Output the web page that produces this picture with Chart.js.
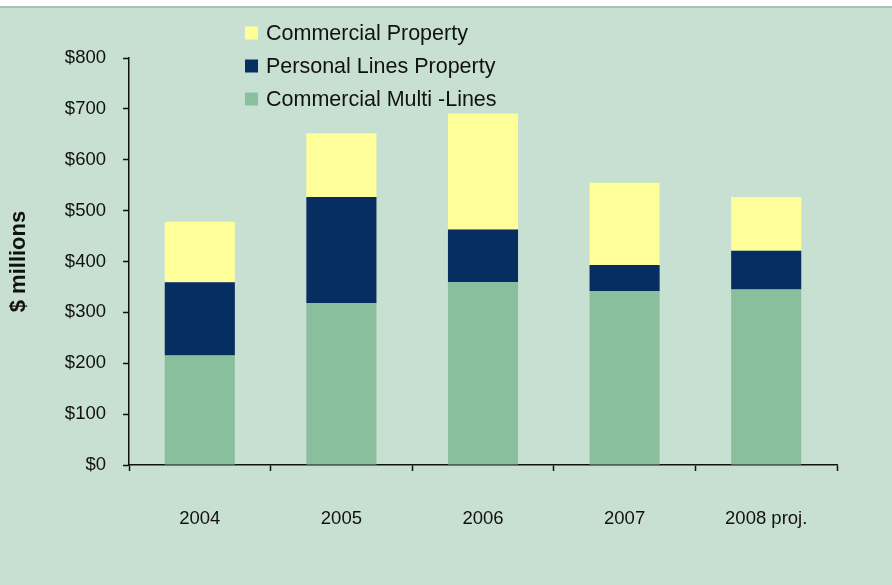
<!DOCTYPE html>
<html>
<head>
<meta charset="utf-8">
<title>Premiums by line</title>
<script src="https://cdn.jsdelivr.net/npm/chart.js@4/dist/chart.umd.min.js"></script>
<style>
  html, body { margin: 0; padding: 0; background: #ffffff; }
  #wrap { width: 892px; height: 585px; }
</style>
</head>
<body>
<div id="wrap"><canvas id="c" width="892" height="585"></canvas></div>
<script>
// Years on the category axis
const categories = ['2004', '2005', '2006', '2007', '2008 proj.'];

// Premiums, $ millions, stacked bottom to top
const commercialMultiLines = [215, 318, 359, 342, 345];
const personalLinesProperty = [144, 209, 104, 51, 76];
const commercialProperty = [119, 125, 228, 162, 106];

// Value axis ticks
const yTickValues = [0, 100, 200, 300, 400, 500, 600, 700, 800];

const FONT = '"Liberation Sans", Arial, sans-serif';

// Page background: thin white strip, rule line, then pale green panel
const panelBackground = {
  id: 'panelBackground',
  beforeDraw(chart) {
    const ctx = chart.ctx;
    ctx.save();
    ctx.fillStyle = '#ffffff';
    ctx.fillRect(0, 0, chart.width, chart.height);
    ctx.fillStyle = '#c8e0d2';
    ctx.fillRect(0, 7, chart.width, chart.height - 7);
    ctx.fillStyle = '#a7c3ae';
    ctx.fillRect(0, 6, chart.width, 2);
    ctx.restore();
  }
};

// Vertical legend, top series first
const stackedLegend = {
  id: 'stackedLegend',
  afterDraw(chart) {
    const ctx = chart.ctx;
    const items = chart.data.datasets.slice().reverse();
    ctx.save();
    ctx.font = '21.5px ' + FONT;
    ctx.textBaseline = 'middle';
    ctx.textAlign = 'left';
    items.forEach((ds, i) => {
      const cy = 33 + i * 33;
      ctx.fillStyle = ds.backgroundColor;
      ctx.fillRect(245, cy - 6.5, 13, 13);
      ctx.fillStyle = '#111111';
      ctx.fillText(ds.label, 266, cy + 1);
    });
    ctx.restore();
  }
};

new Chart(document.getElementById('c'), {
  type: 'bar',
  data: {
    labels: categories,
    datasets: [
      { label: 'Commercial Multi -Lines', data: commercialMultiLines, backgroundColor: '#8abf9e' },
      { label: 'Personal Lines Property', data: personalLinesProperty, backgroundColor: '#062e60' },
      { label: 'Commercial Property', data: commercialProperty, backgroundColor: '#ffff99' }
    ]
  },
  options: {
    responsive: false,
    animation: false,
    layout: { padding: { top: 58, right: 55, left: 0, bottom: 0 } },
    datasets: { bar: { categoryPercentage: 1, barPercentage: 0.495, borderWidth: 0 } },
    plugins: { legend: { display: false }, tooltip: { enabled: false } },
    scales: {
      x: {
        stacked: true,
        afterFit(scale) { scale.height = 120; },
        grid: {
          offset: true,
          drawOnChartArea: false,
          drawTicks: true,
          tickLength: 6,
          tickColor: '#111111',
          tickWidth: 1.5
        },
        border: { display: true, color: '#111111', width: 1.5 },
        ticks: { color: '#111111', font: { family: FONT, size: 18.5 }, padding: 37, maxRotation: 0 }
      },
      y: {
        stacked: true,
        min: 0,
        max: 800,
        afterFit(scale) { scale.width = 129; },
        afterBuildTicks(scale) { scale.ticks = yTickValues.map(v => ({ value: v })); },
        grid: {
          drawOnChartArea: false,
          drawTicks: true,
          tickLength: 6,
          tickColor: '#111111',
          tickWidth: 1.5
        },
        border: { display: true, color: '#111111', width: 1.5 },
        ticks: {
          color: '#111111',
          font: { family: FONT, size: 18.5 },
          padding: 17,
          callback: v => '$' + v
        },
        title: {
          display: true,
          text: '$ millions',
          color: '#111111',
          font: { family: FONT, size: 22, weight: 'bold' },
          padding: { top: 6, bottom: 0 }
        }
      }
    }
  },
  plugins: [panelBackground, stackedLegend]
});
</script>
</body>
</html>
